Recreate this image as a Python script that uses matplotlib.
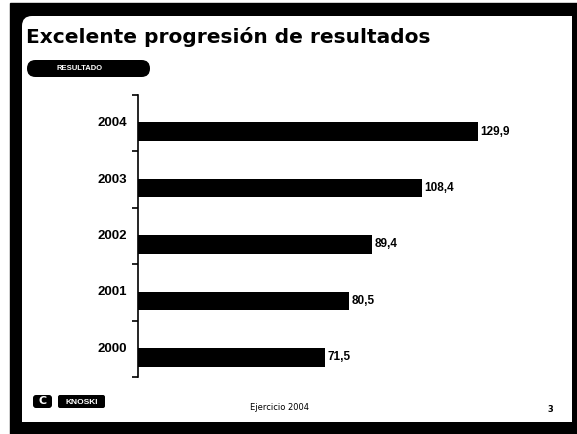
import matplotlib
matplotlib.use("Agg")
import matplotlib.pyplot as plt
from matplotlib.patches import Rectangle, FancyBboxPatch

years = ["2000", "2001", "2002", "2003", "2004"]
values = [71.5, 80.5, 89.4, 108.4, 129.9]
value_labels = ["71,5", "80,5", "89,4", "108,4", "129,9"]
title = "Excelente progresión de resultados"
badge = "RESULTADO"
footer = "Ejercicio 2004"
page = "3"

W, H = 577, 434
fig = plt.figure(figsize=(W / 100, H / 100), dpi=100)
fig.patch.set_facecolor("white")

# background / decoration axes in pixel coordinates
bg = fig.add_axes([0, 0, 1, 1])
bg.set_xlim(0, W)
bg.set_ylim(H, 0)
bg.axis("off")
bg.add_patch(Rectangle((10, 3), W - 10, H - 3, color="black", zorder=0))
bg.add_patch(FancyBboxPatch((22, 16), 550, 406,
                            boxstyle="round,pad=0,rounding_size=10",
                            facecolor="white", edgecolor="none", zorder=1))
# square off the other three corners
bg.add_patch(Rectangle((300, 16), 272, 100, facecolor="white", edgecolor="none", zorder=1))
bg.add_patch(Rectangle((22, 300), 550, 122, facecolor="white", edgecolor="none", zorder=1))
bg.text(26, 43, title, fontsize=14.5, fontweight="bold",
        family="DejaVu Sans", ha="left", va="baseline", zorder=2)
bg.add_patch(FancyBboxPatch((27, 60), 123, 17,
                            boxstyle="round,pad=0,rounding_size=8.5",
                            facecolor="black", edgecolor="none", zorder=2))
bg.text(80, 68.5, badge, fontsize=5.5, fontweight="bold", color="white",
        family="Liberation Sans", ha="center", va="center", zorder=3)
# footer logo
bg.add_patch(FancyBboxPatch((33, 395), 19, 13,
                            boxstyle="round,pad=0,rounding_size=3",
                            facecolor="black", edgecolor="none", zorder=2))
bg.text(42.5, 401.5, "C", fontsize=8, fontweight="bold", color="white",
        family="DejaVu Sans", ha="center", va="center", zorder=3)
bg.add_patch(FancyBboxPatch((58, 395), 47, 13,
                            boxstyle="round,pad=0,rounding_size=2",
                            facecolor="black", edgecolor="none", zorder=2))
bg.text(81.5, 402, "KNOSKI", fontsize=6, fontweight="bold", color="white",
        family="Liberation Sans", ha="center", va="center", zorder=3)
bg.text(279, 408, footer, fontsize=6, family="DejaVu Sans",
        ha="center", va="center", zorder=3)
bg.text(550, 410, page, fontsize=6, fontweight="bold", family="DejaVu Sans",
        ha="center", va="center", zorder=3)

# chart axes
x0, x1 = 138, 138 + 392.6
y_top, y_bot = 95, 377
ax = fig.add_axes([x0 / W, (H - y_bot) / H, (x1 - x0) / W, (y_bot - y_top) / H])
ax.set_facecolor("none")
pos = list(range(len(years)))
bar_pos = [p - 0.15 for p in pos]
ax.barh(bar_pos, values, height=0.33, color="black")
ax.set_xlim(0, 150)
ax.set_ylim(-0.5, len(years) - 0.5)
for s in ["top", "right", "bottom"]:
    ax.spines[s].set_visible(False)
ax.spines["left"].set_linewidth(1.2)
ax.set_xticks([])
ax.set_yticks([p - 0.5 for p in pos] + [len(years) - 0.5])
ax.set_yticklabels([])
ax.tick_params(axis="y", direction="out", length=4, width=1.2)
for p, y in zip(pos, years):
    ax.text(-0.028, p, y, transform=ax.get_yaxis_transform(),
            ha="right", va="center", fontsize=9.5, fontweight="bold",
            family="Liberation Sans")
for bp, v, lab in zip(bar_pos, values, value_labels):
    ax.text(v + 1, bp, lab, ha="left", va="center", fontsize=8.5,
            fontweight="bold", family="Liberation Sans")

fig.savefig("out.png", dpi=100)
